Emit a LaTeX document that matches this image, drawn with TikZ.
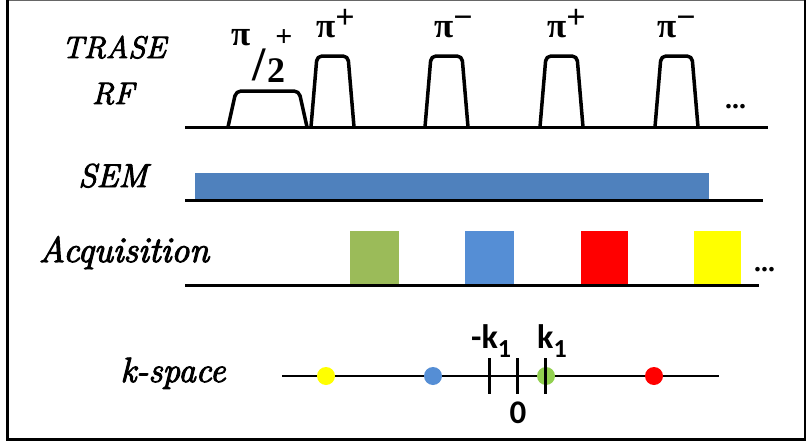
\documentclass[tikz,border=0pt]{standalone}
\usepackage{fontspec}
\newfontfamily\carl{Carlito}
\newfontfamily\grk{Liberation Serif}
\newfontfamily\labfont{Latin Modern Roman}[ItalicFeatures={FakeBold=3}]
\definecolor{semblue}{HTML}{4F81BD}
\definecolor{acqgreen}{HTML}{9BBB59}
\definecolor{acqblue}{HTML}{558ED5}
\definecolor{acqred}{HTML}{FF0000}
\definecolor{acqyellow}{HTML}{FFFF00}
\definecolor{dotgreen}{HTML}{92D050}
\newcommand{\pisup}[1]{π\raisebox{0.24em}{\fontsize{34}{36}\selectfont #1}}
\tikzset{
  axisline/.style={line width=3pt},
  pulse/.style={line width=3.5pt, rounded corners=5pt, line join=round},
  rowlabel/.style={inner sep=0pt, anchor=base},
  plabel/.style={inner sep=0pt, anchor=base west, font=\grk\bfseries\fontsize{35}{38}\selectfont},
  klabel/.style={inner sep=0pt, anchor=base west, font=\carl\bfseries\fontsize{34}{38}\selectfont},
  tick/.style={line width=3pt},
}
\begin{document}
\begin{tikzpicture}[x=1pt,y=-1pt]
\useasboundingbox (0,0) rectangle (807,442);
% frame
\draw[line width=1.2pt, black!60] (6,0.6) -- (806,0.6);
\draw[line width=3pt] (7.5,0) -- (7.5,441);
\draw[line width=2pt] (805,0) -- (805,441);
\draw[line width=3pt] (6,439.5) -- (806,439.5);

% row labels
\node[rowlabel, font=\labfont\itshape\fontsize{31}{36}\selectfont] (trase) at (114,58) {TRASE};
\node[rowlabel, font=\labfont\itshape\fontsize{31}{36}\selectfont] (rf) at (113,104) {RF};
\node[rowlabel, font=\labfont\itshape\fontsize{33}{38}\selectfont] (sem) at (113,187) {SEM};
\node[rowlabel, font=\labfont\itshape\fontsize{36}{40}\selectfont] (acq) at (124,262) {Acquisition};
\node[rowlabel, font=\labfont\itshape\fontsize{35}{40}\selectfont] (ksp) at (173,382) {k-space};

% RF line and pulses
\draw[axisline] (185,127) -- (768,127);
\draw[pulse] (228,127) -- (236,91) -- (299,91) -- (307,127);
\foreach \x in {311,425,540,655}
  \draw[pulse] (\x,127) -- ({\x+6},56) -- ({\x+37},56) -- ({\x+43},127);

% pulse labels
\node[plabel] (p1) at (316,37) {\pisup{+}};
\node[plabel] (p2) at (434,37) {\pisup{−}};
\node[plabel] (p3) at (547,37) {\pisup{+}};
\node[plabel] (p4) at (657,37) {\pisup{−}};
\node[plabel] (h1) at (231,45) {π};
\node[inner sep=0pt, font=\grk\bfseries\fontsize{48}{50}\selectfont] (h2) at (259,65) {/};
\node[inner sep=0pt, anchor=base west, font=\grk\bfseries\fontsize{36}{40}\selectfont] (h3) at (267,82) {2};
\node[inner sep=0pt, font=\grk\bfseries\fontsize{30}{32}\selectfont] (h4) at (284,38) {+};
\node[inner sep=0pt, anchor=base west, font=\grk\bfseries\itshape\fontsize{28}{30}\selectfont] (rfdots) at (726,108) {...};

% SEM
\fill[semblue] (195,173) rectangle (709,199);
\draw[axisline] (185,200) -- (763,200);

% Acquisition
\fill[acqgreen] (350,231) rectangle (399,285);
\fill[acqblue] (465,231) rectangle (514,285);
\fill[acqred] (581,231) rectangle (628,285);
\fill[acqyellow] (694,231) rectangle (741,285);
\draw[axisline] (185,285.5) -- (759,285.5);
\node[inner sep=0pt, anchor=base west, font=\grk\bfseries\itshape\fontsize{28}{30}\selectfont] (acqdots) at (755,271) {...};

% k-space
\draw[line width=2.5pt] (282,376) -- (719,376);
\fill[acqyellow] (326,376) circle (9);
\fill[acqblue] (433,376) circle (9);
\fill[dotgreen] (546,376) circle (9);
\fill[acqred] (654,376) circle (9);
\draw[tick] (489,358) -- (489,394);
\draw[tick] (517,358) -- (517,394);
\draw[tick] (545,358) -- (545,394);
\node[klabel] (mk1) at (471,348) {-k\raisebox{-0.27em}{\fontsize{26}{28}\selectfont 1}};
\node[klabel] (k1) at (537,348) {k\raisebox{-0.27em}{\fontsize{26}{28}\selectfont 1}};
\node[inner sep=0pt, anchor=base, font=\carl\bfseries\fontsize{33}{36}\selectfont] (zero) at (518,423) {0};
\end{tikzpicture}
\end{document}
